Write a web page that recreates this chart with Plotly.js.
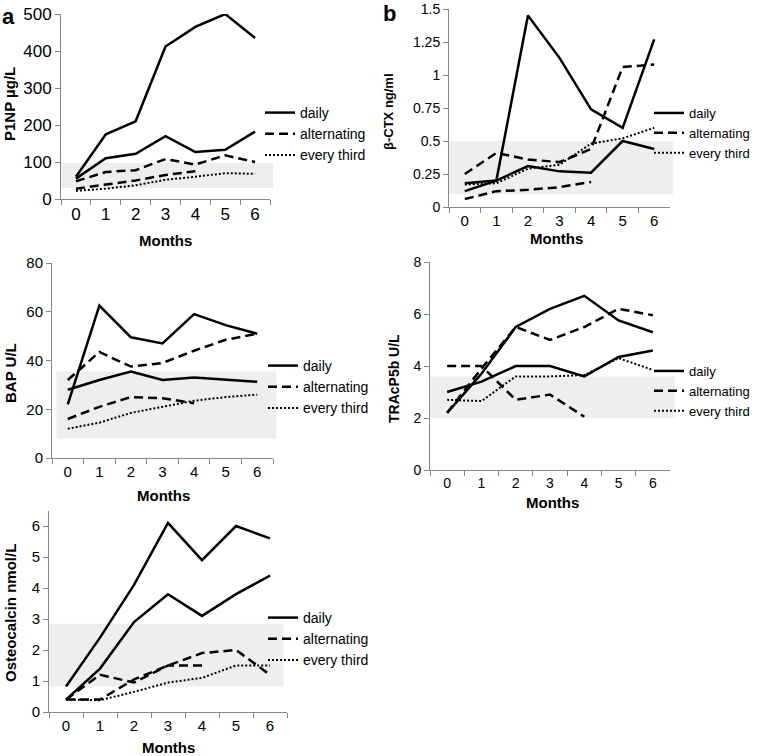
<!DOCTYPE html>
<html><head><meta charset="utf-8">
<script src="https://cdn.plot.ly/plotly-3.0.1.min.js"></script>
<style>html,body{margin:0;padding:0;background:#fff}#chart{width:761px;height:756px}</style>
</head><body><div id="chart"></div>
<script>
// ---- data ----
const months = ['0','1','2','3','4','5','6'];
const seriesNames = ['daily','alternating','every third'];

// Panel a: P1NP µg/L
const p1np_daily1 = [60,175,210,412,465,500,435];
const p1np_daily2 = [55,110,122,170,127,133,182];
const p1np_alt1   = [48,73,78,108,93,118,100];
const p1np_alt2   = [28,38,50,65,75,null,null];
const p1np_third  = [22,28,37,52,60,70,68];
const p1np_ref    = [30,97];

// Panel b: β-CTX ng/ml
const ctx_daily1 = [0.18,0.20,1.45,1.13,0.74,0.60,1.27];
const ctx_daily2 = [0.12,0.20,0.31,0.27,0.26,0.50,0.44];
const ctx_alt1   = [0.25,0.41,0.36,0.34,0.44,1.06,1.08];
const ctx_alt2   = [0.06,0.12,0.13,0.15,0.19,null,null];
const ctx_third  = [0.17,0.18,0.29,0.32,0.48,0.52,0.60];
const ctx_ref    = [0.10,0.50];

// Panel c: BAP U/L
const bap_daily1 = [22,62.5,49.5,47,59,54.5,51];
const bap_daily2 = [28,32,35.5,32,33,32,31.3];
const bap_alt1   = [32,43.5,37.5,39,44,48.5,51];
const bap_alt2   = [16,21,25,24.5,22.5,null,null];
const bap_third  = [12,14.5,18.5,21,23.5,25,26];
const bap_ref    = [8,35.5];

// Panel d: TRAcP5b U/L
const trap_daily1 = [2.2,3.7,5.5,6.2,6.7,5.75,5.3];
const trap_daily2 = [3.0,3.4,4.0,4.0,3.6,4.35,4.6];
const trap_alt1   = [2.2,3.9,5.5,5.0,5.5,6.2,5.95];
const trap_alt2   = [4.0,4.0,2.7,2.9,2.05,null,null];
const trap_third  = [2.7,2.65,3.6,3.6,3.65,4.3,3.85];
const trap_ref    = [2.0,3.6];

// Panel e: Osteocalcin nmol/L
const oc_daily1 = [0.82,2.4,4.1,6.1,4.9,6.0,5.6];
const oc_daily2 = [0.4,1.4,2.9,3.8,3.1,3.8,4.4];
const oc_alt1   = [0.4,1.2,0.95,1.5,1.5,null,null];
const oc_alt2   = [0.4,0.4,1.05,1.5,1.9,2.0,1.2];
const oc_third  = [0.4,0.38,0.65,0.95,1.1,1.5,1.5];
const oc_ref    = [0.82,2.85];

// ---- layout helpers ----
const W = 761, H = 756;
const FONT = 'Liberation Sans, Arial, Helvetica, sans-serif';
const fx = p => p / W;
const fy = p => 1 - p / H;

const panels = [
  {id:'', d:[p1np_daily1,p1np_daily2,p1np_alt1,p1np_alt2,p1np_third], ref:p1np_ref,
   xd:[61,270], yd:[14,199], yr:[0,500], ytv:[0,100,200,300,400,500], ytt:null, tf:17, xf:17,
   ytitle:'P1NP µg/L', ytx:9, yty:104, ytf:15, mx:165, my:240, lx:260, ly:97, lf:14, band:[0,1.015]},
  {id:'2', d:[ctx_daily1,ctx_daily2,ctx_alt1,ctx_alt2,ctx_third], ref:ctx_ref,
   xd:[449,670], yd:[9,207], yr:[0,1.5], ytv:[0,0.25,0.5,0.75,1,1.25,1.5], ytt:['0','0.25','0.5','0.75','1','1.25','1.5'], tf:14, xf:15,
   ytitle:'β-CTX ng/ml', ytx:388, yty:112, ytf:13, mx:556, my:238, lx:649, ly:98, lf:13, band:[0,1.015]},
  {id:'3', d:[bap_daily1,bap_daily2,bap_alt1,bap_alt2,bap_third], ref:bap_ref,
   xd:[52,273], yd:[263,458], yr:[0,80], ytv:[0,20,40,60,80], ytt:null, tf:15, xf:15,
   ytitle:'BAP U/L', ytx:10, yty:373, ytf:15, mx:163, my:495, lx:263, ly:350, lf:14, band:[0.02,1.015]},
  {id:'4', d:[trap_daily1,trap_daily2,trap_alt1,trap_alt2,trap_third], ref:trap_ref,
   xd:[430,670], yd:[262,470], yr:[0,8], ytv:[0,2,4,6,8], ytt:null, tf:14, xf:14,
   ytitle:'TRAcP5b U/L', ytx:394, yty:378, ytf:14, mx:552, my:502, lx:649, ly:356, lf:13, band:[0,1.02]},
  {id:'5', d:[oc_daily1,oc_daily2,oc_alt1,oc_alt2,oc_third], ref:oc_ref,
   xd:[49,287], yd:[510.5,712], yr:[0,6.5], ytv:[0,1,2,3,4,5,6], ytt:null, tf:15, xf:15,
   ytitle:'Osteocalcin nmol/L', ytx:10, yty:613, ytf:15, mx:168, my:747, lx:263, ly:602, lf:14, band:[0,0.985]}
];

const styles = [
  {g:0, dash:'solid', w:2.5},
  {g:0, dash:'solid', w:2.5},
  {g:1, dash:'9px,5px', w:2.5},
  {g:1, dash:'9px,5px', w:2.5},
  {g:2, dash:'2px,2px', w:2}
];

const traces = [];
const layout = {
  width: W, height: H,
  margin: {l:0, r:0, t:0, b:0, autoexpand: false},
  paper_bgcolor: '#fff', plot_bgcolor: 'rgba(0,0,0,0)',
  font: {family: FONT, color: '#000', size: 14},
  shapes: [], annotations: [],
  showlegend: true
};

panels.forEach((p, pi) => {
  const legName = pi === 0 ? 'legend' : 'legend' + (pi + 1);
  const xa = 'x' + p.id, ya = 'y' + p.id;
  p.d.forEach((vals, si) => {
    const s = styles[si];
    const first = (si === 0 || si === 2 || si === 4);
    traces.push({
      type: 'scatter', mode: 'lines', x: months, y: vals,
      xaxis: xa, yaxis: ya, name: seriesNames[s.g],
      legendgroup: 'g' + pi + '_' + s.g, showlegend: first, legend: legName,
      line: {color: '#000', width: s.w, dash: s.dash}, connectgaps: false,
      hoverinfo: 'skip'
    });
  });
  layout['xaxis' + p.id] = {
    domain: [fx(p.xd[0]), fx(p.xd[1])], anchor: ya,
    type: 'category', categoryorder: 'array', categoryarray: months,
    range: [-0.5, 6.5], tickson: 'boundaries', ticks: 'outside', ticklen: 5,
    tickcolor: '#888', showline: true, linecolor: '#888', linewidth: 1,
    showgrid: false, zeroline: false, tickfont: {size: p.xf, family: FONT}, fixedrange: true
  };
  layout['yaxis' + p.id] = {
    domain: [fy(p.yd[1]), fy(p.yd[0])], anchor: xa,
    range: p.yr, tickvals: p.ytv, ticktext: p.ytt || p.ytv.map(String),
    ticks: 'outside', ticklen: 5, tickcolor: '#888', showline: true, linecolor: '#888', linewidth: 1,
    showgrid: false, zeroline: false, tickfont: {size: p.tf, family: FONT}, fixedrange: true
  };
  layout.shapes.push({
    type: 'rect', xref: xa + ' domain', yref: ya, x0: p.band[0], x1: p.band[1],
    y0: p.ref[0], y1: p.ref[1], fillcolor: '#eeeeee', line: {width: 0}, layer: 'below'
  });
  layout[legName] = {
    x: fx(p.lx), y: fy(p.ly), xanchor: 'left', yanchor: 'top', xref: 'paper', yref: 'paper',
    bgcolor: 'rgba(0,0,0,0)', borderwidth: 0, tracegroupgap: 0,
    font: {size: p.lf, family: FONT}, itemwidth: 30
  };
  layout.annotations.push({
    text: '<b>' + p.ytitle + '</b>', textangle: -90, xref: 'paper', yref: 'paper',
    x: fx(p.ytx), y: fy(p.yty), xanchor: 'center', yanchor: 'middle', showarrow: false,
    font: {size: p.ytf, family: FONT}
  });
  layout.annotations.push({
    text: '<b>Months</b>', xref: 'paper', yref: 'paper',
    x: fx(p.mx), y: fy(p.my), xanchor: 'center', yanchor: 'middle', showarrow: false,
    font: {size: 15, family: FONT}
  });
});

layout.annotations.push({text:'<b>a</b>', xref:'paper', yref:'paper', x:fx(0), y:fy(16), xanchor:'left', yanchor:'middle', showarrow:false, font:{size:22, family:FONT}});
layout.annotations.push({text:'<b>b</b>', xref:'paper', yref:'paper', x:fx(381), y:fy(13), xanchor:'left', yanchor:'middle', showarrow:false, font:{size:22, family:FONT}});

Plotly.newPlot('chart', traces, layout, {displayModeBar: false, staticPlot: true});
</script>
</body></html>
